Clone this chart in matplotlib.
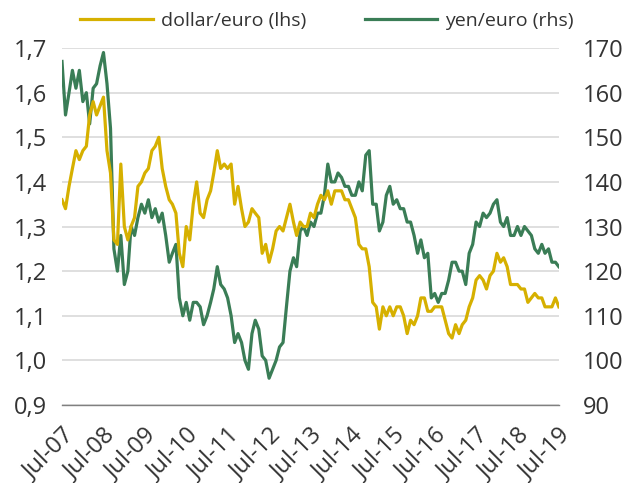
import pandas as pd
import matplotlib
matplotlib.use('Agg')
import matplotlib.pyplot as plt
import matplotlib.dates as mdates
from matplotlib.ticker import FuncFormatter

# monthly readings, Jul 2007 - Jul 2019
dates = pd.date_range('2007-07-01', '2019-07-01', freq='MS')

dollar_euro = [
    1.36, 1.34, 1.39, 1.43, 1.47, 1.45,
    1.47, 1.48, 1.55, 1.58, 1.55, 1.57, 1.59, 1.47, 1.42, 1.27, 1.26, 1.44,
    1.30, 1.27, 1.30, 1.32, 1.39, 1.40, 1.42, 1.43, 1.47, 1.48, 1.50, 1.43,
    1.39, 1.36, 1.35, 1.33, 1.24, 1.21, 1.30, 1.27, 1.35, 1.40, 1.33, 1.32,
    1.36, 1.38, 1.42, 1.47, 1.43, 1.44, 1.43, 1.44, 1.35, 1.39, 1.34, 1.30,
    1.31, 1.34, 1.33, 1.32, 1.24, 1.26, 1.22, 1.25, 1.29, 1.30, 1.29, 1.32,
    1.35, 1.31, 1.28, 1.31, 1.30, 1.30, 1.33, 1.32, 1.35, 1.37, 1.36, 1.38,
    1.35, 1.38, 1.38, 1.38, 1.36, 1.36, 1.34, 1.32, 1.26, 1.25, 1.25, 1.21,
    1.13, 1.12, 1.07, 1.12, 1.10, 1.12, 1.10, 1.12, 1.12, 1.10, 1.06, 1.09,
    1.08, 1.10, 1.14, 1.14, 1.11, 1.11, 1.12, 1.12, 1.12, 1.09, 1.06, 1.05,
    1.08, 1.06, 1.08, 1.09, 1.12, 1.14, 1.18, 1.19, 1.18, 1.16, 1.19, 1.20,
    1.24, 1.22, 1.23, 1.21, 1.17, 1.17, 1.17, 1.16, 1.16, 1.13, 1.14, 1.15,
    1.14, 1.14, 1.12, 1.12, 1.12, 1.14, 1.12,
]

yen_euro = [
    167, 155, 160, 165, 161, 165,
    158, 160, 153, 161, 162, 166, 169, 162, 152, 125, 120, 128,
    117, 120, 130, 128, 132, 135, 133, 136, 132, 134, 131, 133,
    128, 122, 124, 126, 114, 110, 113, 109, 113, 113, 112, 108,
    110, 113, 116, 121, 117, 116, 114, 110, 104, 106, 104, 100,
    98, 106, 109, 107, 101, 100, 96, 98, 100, 103, 104, 112,
    120, 123, 121, 129, 130, 128, 131, 130, 133, 133, 137, 144,
    140, 140, 142, 141, 139, 139, 137, 137, 140, 138, 146, 147,
    135, 135, 129, 131, 137, 139, 135, 136, 134, 134, 131, 131,
    128, 124, 127, 123, 124, 114, 115, 113, 115, 115, 118, 122,
    122, 120, 120, 117, 124, 126, 131, 130, 133, 132, 133, 135,
    136, 131, 130, 132, 128, 128, 130, 128, 130, 129, 128, 125,
    124, 126, 124, 125, 122, 122, 121,
]

gold = '#D6B000'
green = '#3A7D56'
txt = '#333333'

plt.rcParams['font.family'] = ['Open Sans', 'DejaVu Sans']

fig = plt.figure(figsize=(6.23, 4.83), dpi=100)
ax = fig.add_axes([0.0995, 0.1615, 0.7975, 0.739])
ax2 = ax.twinx()
# gold series sits on top of the green one
ax.set_zorder(ax2.get_zorder() + 1)
ax.patch.set_visible(False)

l1, = ax.plot(dates, dollar_euro, color=gold, lw=2.3, label='dollar/euro (lhs)')
l2, = ax2.plot(dates, yen_euro, color=green, lw=2.3, label='yen/euro (rhs)')

ax.set_ylim(0.9, 1.7)
ax2.set_ylim(90, 170)
ax.set_yticks([0.9, 1.0, 1.1, 1.2, 1.3, 1.4, 1.5, 1.6, 1.7])
ax2.set_yticks(range(90, 171, 10))
ax.yaxis.set_major_formatter(FuncFormatter(lambda v, p: f'{v:.1f}'.replace('.', ',')))

ax.set_xlim(dates[0], dates[-1])
ax.set_xticks(pd.date_range('2007-07-01', '2019-07-01', freq='12MS'))
ax.xaxis.set_major_formatter(mdates.DateFormatter('Jul-%y'))

# grid on the lower axes so both lines are drawn over it
ax2.grid(axis='y', color='#d9d9d9', lw=1.2)
ax2.set_axisbelow(True)
for a in (ax, ax2):
    for s in a.spines.values():
        s.set_visible(False)
ax.spines['bottom'].set_visible(True)
ax.spines['bottom'].set_color('#808080')
ax.spines['bottom'].set_linewidth(1.0)

ax.tick_params(axis='y', length=0, pad=11, labelsize=17, labelcolor=txt)
ax2.tick_params(axis='y', length=0, pad=17, labelsize=17, labelcolor=txt)
ax.tick_params(axis='x', length=0, pad=13, labelsize=17, labelcolor=txt)
for lab in ax.get_xticklabels():
    lab.set_rotation(45)
    lab.set_ha('right')
    lab.set_va('top')
    lab.set_rotation_mode('anchor')

fig.legend(handles=[l1, l2], loc='center', bbox_to_anchor=(327 / 623, 0.957),
           ncol=2, frameon=False, fontsize=14, handlelength=3.75,
           handletextpad=0.4, columnspacing=3.0, labelcolor=txt)

plt.savefig('out.png', dpi=100)
